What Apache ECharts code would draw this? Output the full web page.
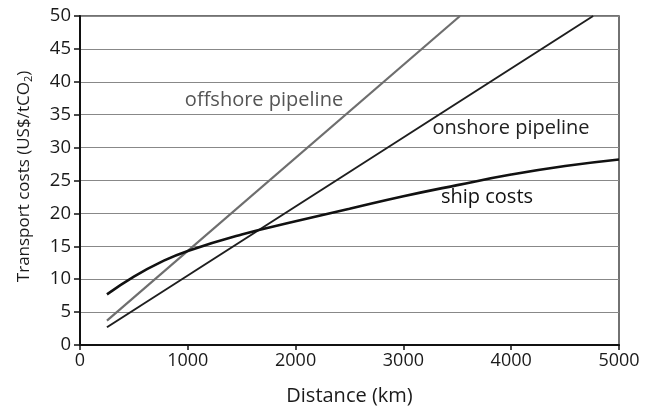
<!DOCTYPE html>
<html><head><meta charset="utf-8">
<script src="https://cdn.jsdelivr.net/npm/echarts@6/dist/echarts.min.js"></script>
<style>html,body{margin:0;padding:0;background:#fff}#c{width:655px;height:411px}</style>
</head><body><div id="c"></div>
<script>
const offshoreX = [250, 3525];
const offshoreY = [3.7, 50];
const onshoreX = [250, 4760];
const onshoreY = [2.7, 50];
const shipX = [250, 500, 750, 1000, 1500, 2000, 2500, 3000, 3500, 4000, 4500, 5000];
const shipY = [7.7, 10.4, 12.6, 14.3, 16.8, 18.8, 20.7, 22.6, 24.3, 25.9, 27.2, 28.2];
const xTicks = [0, 1000, 2000, 3000, 4000, 5000];
const yTicks = [0, 5, 10, 15, 20, 25, 30, 35, 40, 45, 50];

const zip = (xs, ys) => xs.map((x, i) => [x, ys[i]]);
const F = 'Open Sans';
const chart = echarts.init(document.getElementById('c'), null, {renderer: 'canvas'});
chart.setOption({
  animation: false,
  backgroundColor: '#fff',
  grid: {left: 80, right: 36, top: 16, bottom: 64, show: true, borderColor: '#444', borderWidth: 1.5},
  xAxis: {
    type: 'value', min: 0, max: 5000, interval: 1000,
    name: 'Distance (km)', nameLocation: 'middle', nameGap: 41,
    nameTextStyle: {fontFamily: F, fontSize: 20, color: '#1a1a1a'},
    axisLine: {show: true, lineStyle: {color: '#111', width: 2}},
    axisTick: {show: true, length: 5, lineStyle: {color: '#111', width: 1.5}},
    axisLabel: {fontFamily: F, fontSize: 18, color: '#1a1a1a', margin: 7,
      formatter: v => xTicks.includes(v) ? String(v) : ''},
    splitLine: {show: false}
  },
  yAxis: {
    type: 'value', min: 0, max: 50, interval: 5,
    name: 'Transport costs (US$/tCO{sub|2})', nameLocation: 'middle', nameGap: 46,
    nameTextStyle: {fontFamily: F, fontSize: 17, color: '#1a1a1a', padding: [0, 0, 0, 8],
      rich: {sub: {fontFamily: F, fontSize: 11, color: '#1a1a1a', verticalAlign: 'bottom', padding: [8, 0, 0, 0]}}},
    axisLine: {show: true, lineStyle: {color: '#111', width: 2}},
    axisTick: {show: true, length: 6, lineStyle: {color: '#111', width: 1.5}},
    axisLabel: {fontFamily: F, fontSize: 18.5, color: '#1a1a1a', margin: 9,
      formatter: v => yTicks.includes(v) ? String(v) : ''},
    splitLine: {show: true, lineStyle: {color: '#888', width: 1.2}}
  },
  series: [
    {name: 'offshore pipeline', type: 'line', data: zip(offshoreX, offshoreY), showSymbol: false,
     lineStyle: {color: '#6e6e6e', width: 2.2}, z: 3},
    {name: 'onshore pipeline', type: 'line', data: zip(onshoreX, onshoreY), showSymbol: false,
     lineStyle: {color: '#1e1e1e', width: 2}, z: 3},
    {name: 'ship costs', type: 'line', data: zip(shipX, shipY), smooth: true, showSymbol: false,
     lineStyle: {color: '#111', width: 2.6}, z: 4}
  ],
  graphic: [
    {type: 'text', x: 264, y: 100, style: {text: 'offshore pipeline', font: '20px "Open Sans"', fill: '#555', align: 'center', verticalAlign: 'middle'}},
    {type: 'text', x: 511, y: 128, style: {text: 'onshore pipeline', font: '20px "Open Sans"', fill: '#222', align: 'center', verticalAlign: 'middle'}},
    {type: 'text', x: 487, y: 197, style: {text: 'ship costs', font: '20px "Open Sans"', fill: '#111', align: 'center', verticalAlign: 'middle'}}
  ]
});
</script></body></html>
